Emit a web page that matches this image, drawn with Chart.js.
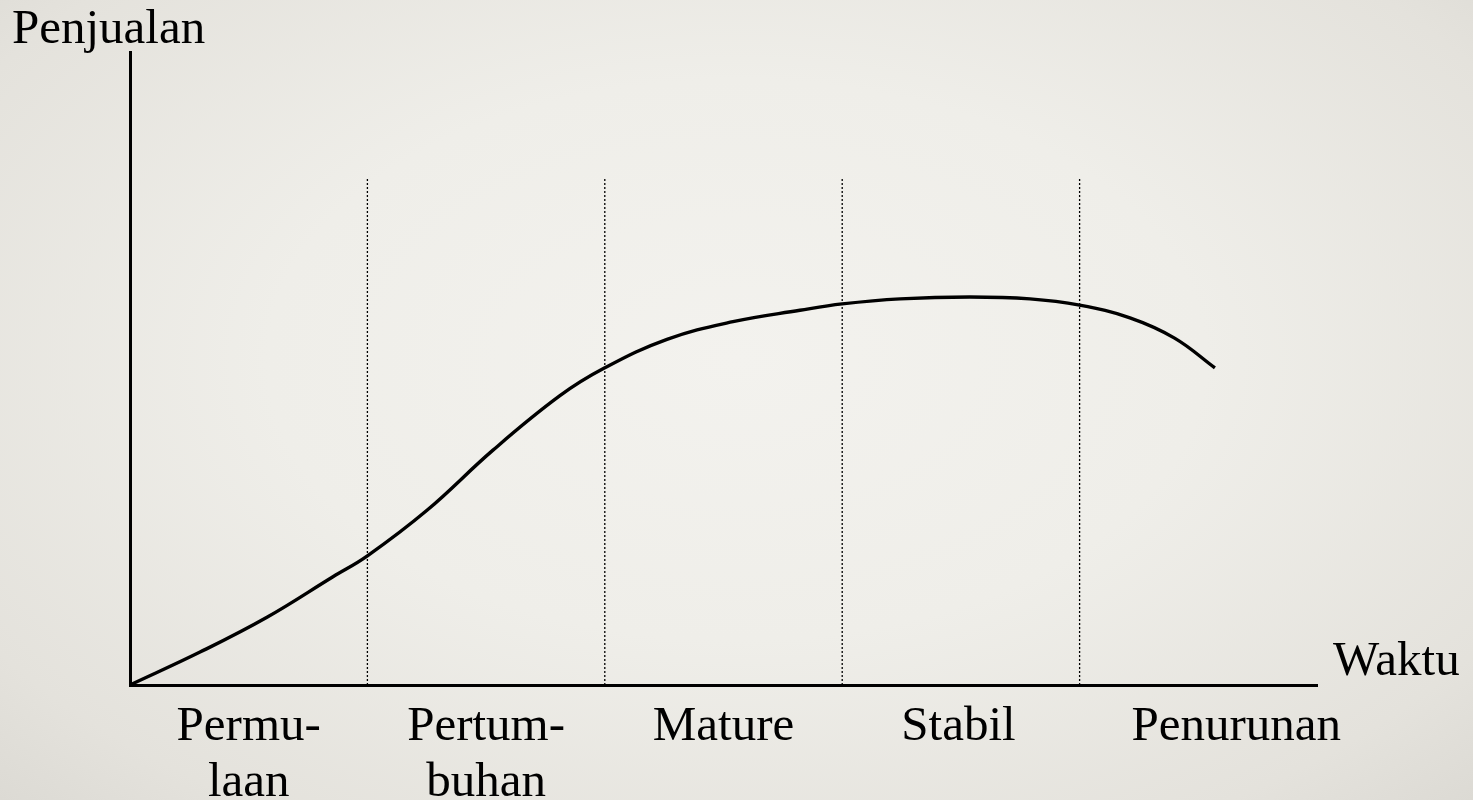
<!DOCTYPE html>
<html>
<head>
<meta charset="utf-8">
<script src="https://cdn.jsdelivr.net/npm/chart.js@4/dist/chart.umd.min.js"></script>
<style>
  html, body { margin: 0; padding: 0; }
  body {
    width: 1473px; height: 800px; overflow: hidden;
    background: radial-gradient(ellipse at 50% 45%, #f3f2ee 0%, #efeee9 45%, #e4e2dc 85%, #dcdad4 100%);
  }
  canvas { display: block; }
</style>
</head>
<body>
<canvas id="c" width="1473" height="800"></canvas>
<script>
// ---- data ----
const salesX = [0, 0.295, 0.577, 0.855, 1.0, 1.251, 1.529, 1.811, 2.0, 2.262, 2.54, 2.822, 3.0, 3.244, 3.538, 3.791, 4.0, 4.212, 4.4, 4.57];
const salesY = [0, 5.2, 10.7, 17.1, 20.4, 27.6, 37.1, 45.7, 50.1, 54.6, 57.4, 59.2, 60.2, 61.0, 61.3, 61.0, 60.0, 58.0, 54.8, 50.1];
const phaseBoundaries = [1, 2, 3, 4];
const phaseLineTop = 80;
const categoryLabels = [["Permu-", "laan"], ["Pertum-", "buhan"], "Mature", "Stabil", "Penurunan"];
const labelPositions = [0.5, 1.5, 2.5, 3.49, 4.66];
const yTitle = "Penjualan";
const xTitle = "Waktu";

const FONT = "'Liberation Serif', 'Times New Roman', serif";

const datasets = [{
  data: salesX.map((x, i) => ({ x: x, y: salesY[i] })),
  borderColor: '#000',
  borderWidth: 3.4,
  pointRadius: 0,
  tension: 0.4,
  fill: false,
  clip: false
}];
phaseBoundaries.forEach(b => {
  datasets.push({
    data: [{ x: b, y: 0 }, { x: b, y: phaseLineTop }],
    borderColor: '#000',
    borderWidth: 1.3,
    borderDash: [2, 2],
    pointRadius: 0,
    fill: false
  });
});

const titlesPlugin = {
  id: 'titles',
  afterDraw(chart) {
    const ctx = chart.ctx, a = chart.chartArea;
    ctx.save();
    ctx.fillStyle = '#000';
    ctx.font = "49px " + FONT;
    ctx.textBaseline = 'alphabetic';
    ctx.textAlign = 'left';
    ctx.fillText(yTitle, a.left - 118, a.top - 9);
    ctx.fillText(xTitle, a.right + 16, a.bottom - 10);
    ctx.restore();
  }
};

new Chart(document.getElementById('c'), {
  type: 'line',
  data: { datasets: datasets },
  options: {
    responsive: false,
    animation: false,
    devicePixelRatio: 1,
    layout: { padding: { left: 0, top: 52, right: 156, bottom: 0 } },
    plugins: { legend: { display: false }, tooltip: { enabled: false } },
    scales: {
      x: {
        type: 'linear', min: 0, max: 5,
        grid: { display: false, drawTicks: false },
        border: { display: true, color: '#000', width: 3 },
        afterBuildTicks: (scale) => { scale.ticks = labelPositions.map(v => ({ value: v })); },
        afterFit: (scale) => { scale.height = 115; },
        ticks: {
          autoSkip: false, maxRotation: 0, minRotation: 0,
          padding: 14,
          color: '#000',
          font: { family: FONT, size: 49, lineHeight: 1.15 },
          callback: (v, i) => categoryLabels[i]
        }
      },
      y: {
        type: 'linear', min: 0, max: 100,
        grid: { display: false, drawTicks: false },
        border: { display: true, color: '#000', width: 3 },
        ticks: { display: false },
        afterFit: (scale) => { scale.width = 130; }
      }
    }
  },
  plugins: [titlesPlugin]
});
</script>
</body>
</html>
